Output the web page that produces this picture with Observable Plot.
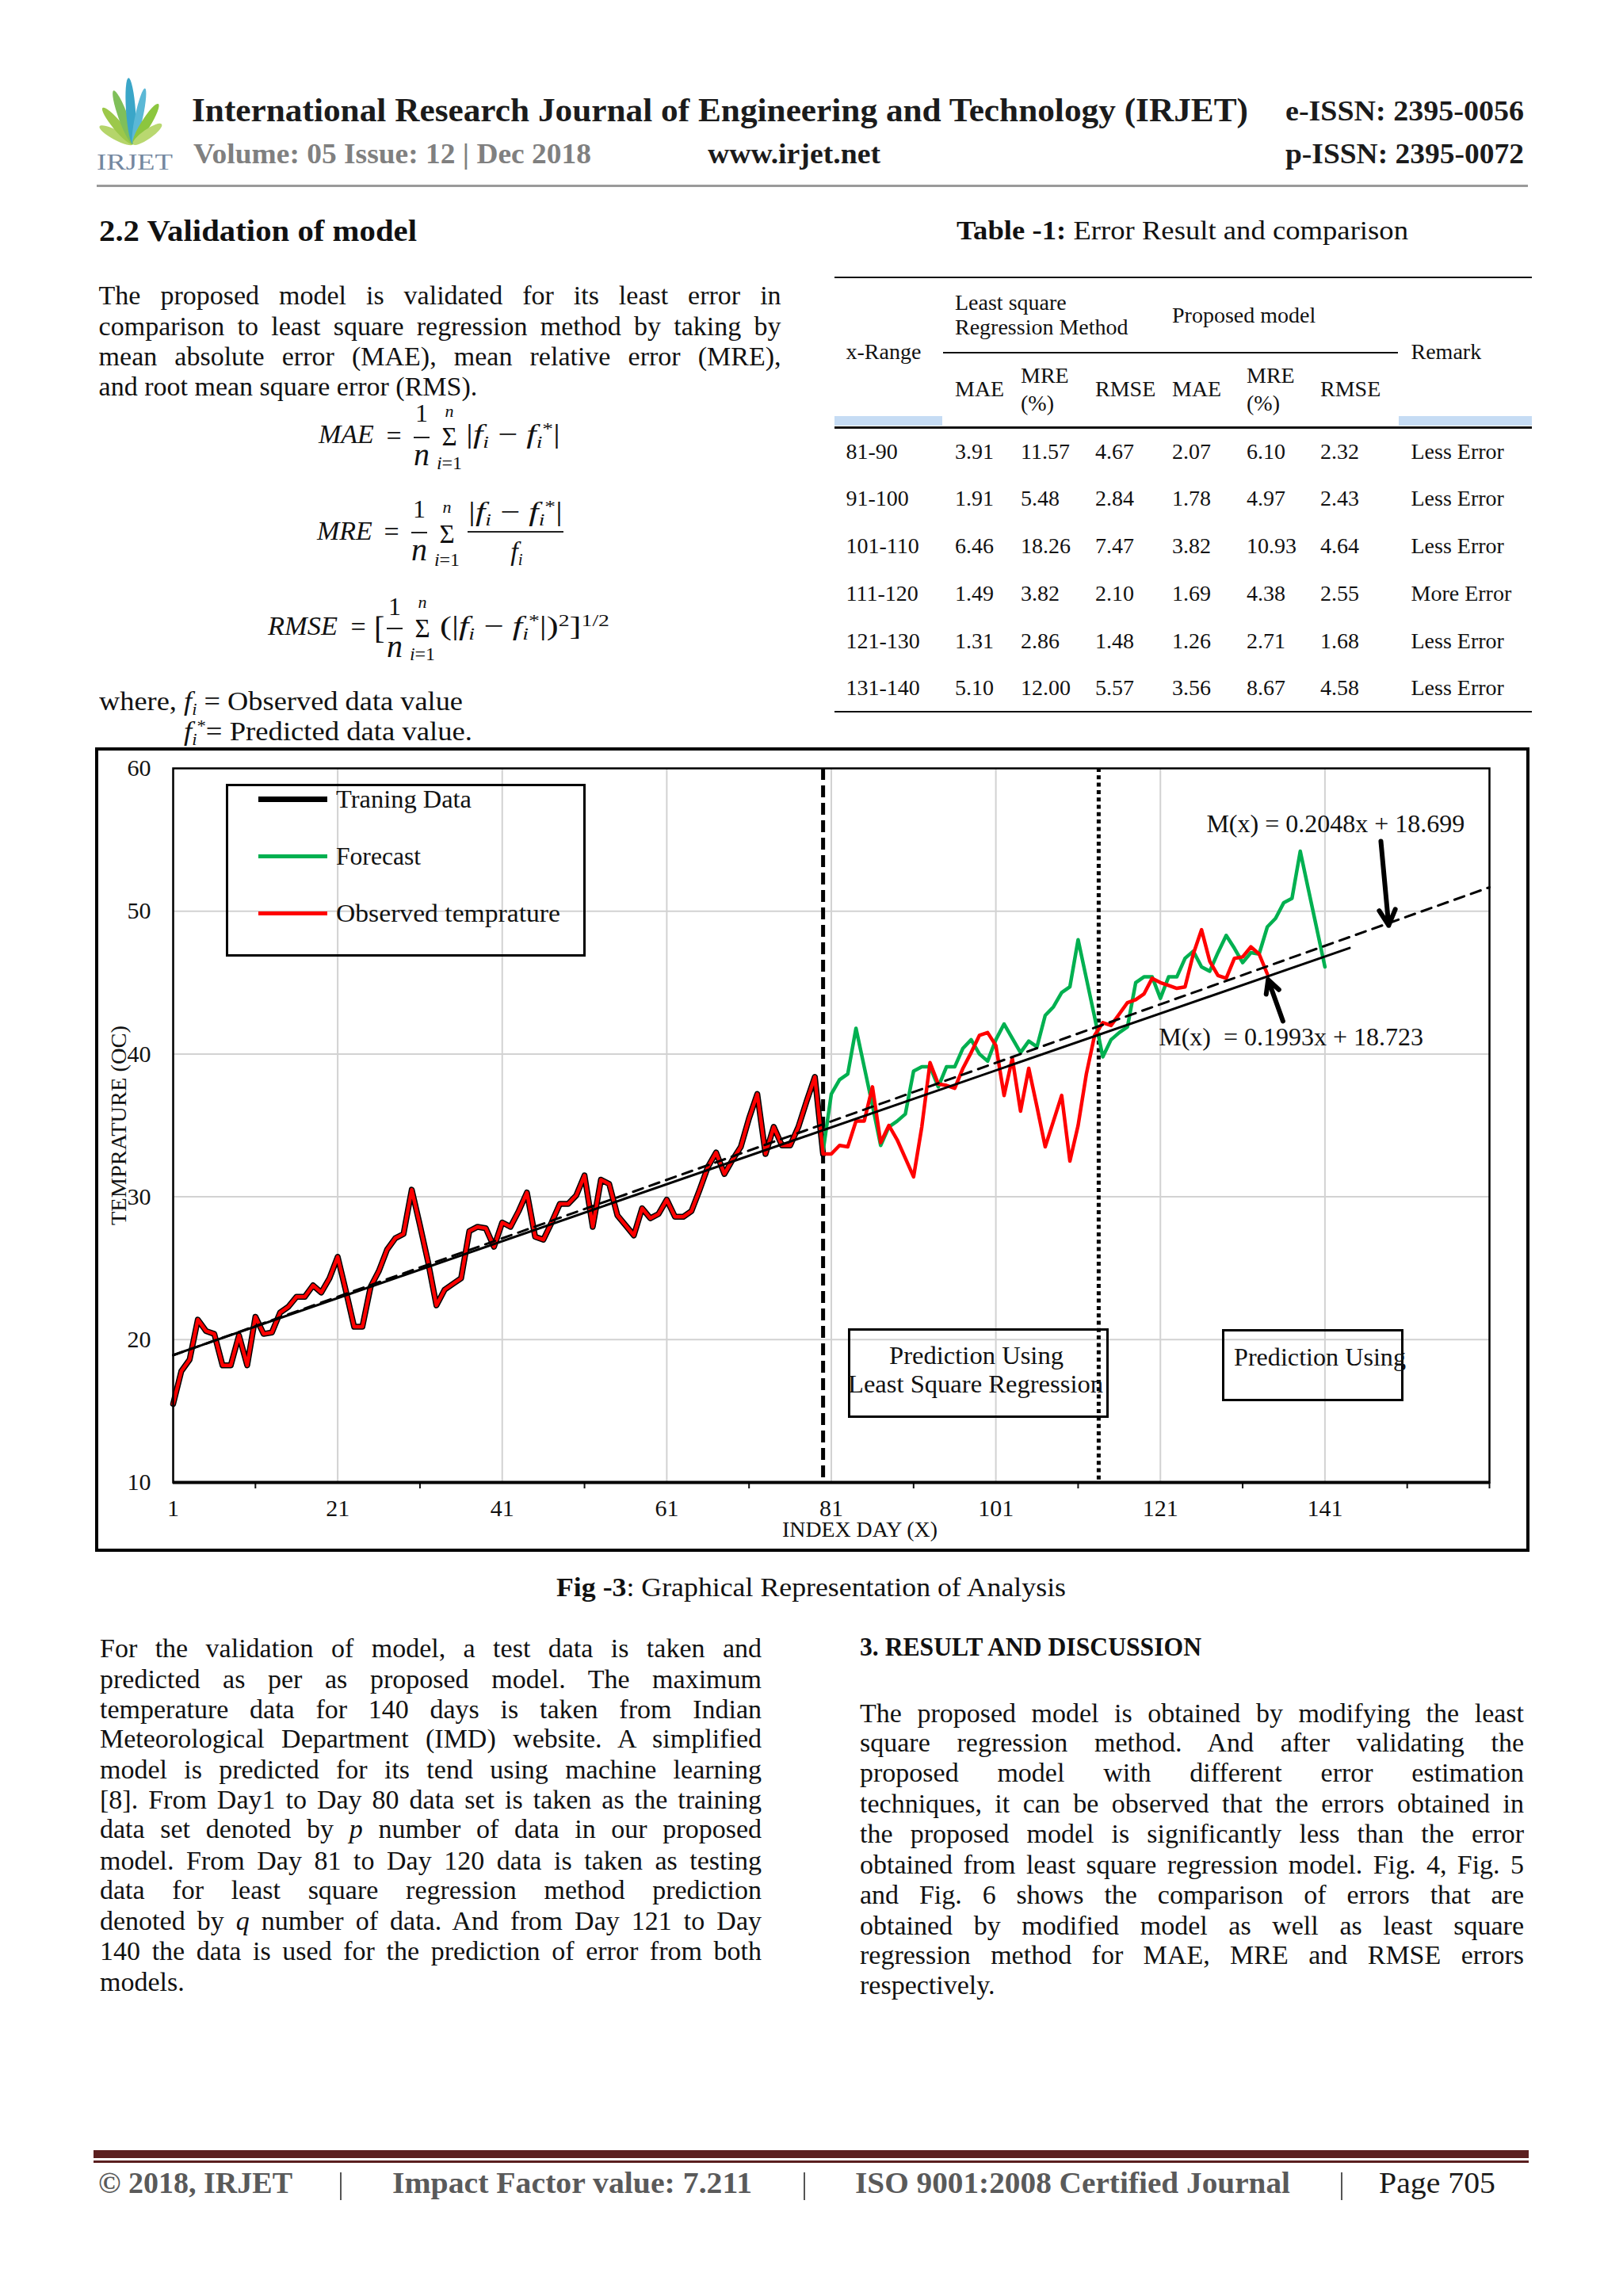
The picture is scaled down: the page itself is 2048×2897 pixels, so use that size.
<!DOCTYPE html>
<html><head><meta charset="utf-8">
<script src="https://cdn.jsdelivr.net/npm/d3@7"></script>
<script src="https://cdn.jsdelivr.net/npm/@observablehq/plot@0.6"></script>
<style>
html,body{margin:0;padding:0;background:#fff;}
#page{position:relative;width:2048px;height:2897px;overflow:hidden;background:#fff;font-family:"Liberation Serif",serif;color:#111;}
.t{position:absolute;white-space:nowrap;line-height:1;}
.r{position:absolute;box-sizing:border-box;}
sub{font-size:0.62em;vertical-align:-0.28em;line-height:0;}
sup{font-size:0.62em;vertical-align:0.5em;line-height:0;}
#chart{position:absolute;left:122px;top:945px;width:1806px;height:1011px;}
#chart svg{overflow:visible;}
</style></head><body><div id="page"></div>
<script>
// ---------------- DATA ----------------
// Observed temperature, index day 1..134
const observedTemp = [
  15.5, 17.8, 18.6, 21.4, 20.6, 20.4, 18.2, 18.2, 20.3, 18.2,
  21.6, 20.4, 20.5, 21.9, 22.3, 23.0, 23.0, 23.8, 23.3, 24.3,
  25.8, 23.4, 20.9, 20.9, 23.7, 24.8, 26.3, 27.1, 27.4, 30.5,
  28.0, 25.4, 22.4, 23.5, 23.9, 24.3, 27.6, 27.9, 27.8, 26.5,
  28.2, 27.9, 29.0, 30.3, 27.2, 27.0, 28.2, 29.5, 29.5, 30.1,
  31.5, 27.9, 31.2, 30.9, 28.7, 28.0, 27.3, 29.2, 28.5, 28.8,
  29.8, 28.6, 28.6, 29.0, 30.5, 32.1, 33.1, 31.6, 32.6, 33.5,
  35.5, 37.2, 33.0, 34.9, 33.6, 33.6, 34.9, 36.7, 38.4, 33.0,
  33.0, 33.6, 33.5, 35.3, 35.3, 37.7, 33.8, 35.0, 34.0, 32.7,
  31.4, 34.9, 39.4, 37.9, 37.8, 37.6, 39.0, 40.1, 41.3, 41.5,
  40.6, 37.1, 39.7, 36.0, 39.0, 36.3, 33.5, 35.3, 37.1, 32.5,
  35.0, 38.6, 41.3, 42.2, 42.0, 42.8, 43.6, 43.8, 44.2, 45.3,
  45.0, 44.8, 44.6, 44.7, 47.0, 48.7, 46.5, 45.5, 45.3, 46.7,
  46.8, 47.5, 47.0, 45.6
];
// Forecast, index day 80..141
const forecastStartDay = 80;
const forecastTemp = [
  33.2, 37.2, 38.2, 38.6, 41.8, 39.1, 36.4, 33.6, 34.9, 35.3,
  35.8, 38.8, 39.1, 39.1, 37.7, 39.1, 39.1, 40.4, 41.0, 40.0,
  39.5, 41.0, 42.1, 41.1, 40.1, 40.9, 40.5, 42.7, 43.3, 44.3,
  44.7, 48.0, 45.3, 42.6, 39.8, 41.0, 41.5, 41.9, 45.0, 45.4,
  45.4, 43.9, 45.4, 45.4, 46.7, 47.2, 46.1, 45.8, 47.1, 48.3,
  47.4, 46.4, 47.1, 47.0, 48.9, 49.5, 50.6, 50.9, 54.2, 51.5,
  48.8, 46.1
];
const trainingEndDay = 80;     // dashed divider
const testingEndDay = 113.5;   // dotted divider
// Trend lines shown in the chart
const lsqSlope = 0.2048, lsqIntercept = 18.699, lsqDays = [1, 161];
const pmSlope = 0.1993, pmIntercept = 18.723, pmDays = [1, 144];
// Axis ticks
const xLabelTicks = [1, 21, 41, 61, 81, 101, 121, 141];
const xMinorTicks = [11, 31, 51, 71, 91, 111, 131, 151, 161];
const yTicks = [10, 20, 30, 40, 50, 60];
const yGridTicks = [20, 30, 40, 50];
const seriesNames = ["Traning Data", "Forecast", "Observed temprature"];

// Table
const tblRanges = ["81-90","91-100","101-110","111-120","121-130","131-140"];
const lsqMAE = ["3.91","1.91","6.46","1.49","1.31","5.10"];
const lsqMRE = ["11.57","5.48","18.26","3.82","2.86","12.00"];
const lsqRMSE = ["4.67","2.84","7.47","2.10","1.48","5.57"];
const pmMAE = ["2.07","1.78","3.82","1.69","1.26","3.56"];
const pmMRE = ["6.10","4.97","10.93","4.38","2.71","8.67"];
const pmRMSE = ["2.32","2.43","4.64","2.55","1.68","4.58"];
const remarks = ["Less Error","Less Error","Less Error","More Error","Less Error","Less Error"];

const para1 = [
  "The proposed model is validated for its least error in",
  "comparison to least square regression method by taking by",
  "mean absolute error (MAE), mean relative error (MRE),",
  "and root mean square error (RMS)."
];
const paraLeft = [
  "For the validation of model, a test data is taken and",
  "predicted as per as proposed model. The maximum",
  "temperature data for 140 days is taken from Indian",
  "Meteorological Department (IMD) website. A simplified",
  "model is predicted for its tend using machine learning",
  "[8]. From Day1 to Day 80 data set is taken as the training",
  "data set denoted by <i>p</i> number of data in our proposed",
  "model. From Day 81 to Day 120 data is taken as testing",
  "data for least square regression method prediction",
  "denoted by <i>q</i> number of data. And from Day 121 to Day",
  "140 the data is used for the prediction of error from both",
  "models."
];
const paraRight = [
  "The proposed model is obtained by modifying the least",
  "square regression method. And after validating the",
  "proposed model with different error estimation",
  "techniques, it can be observed that the errors obtained in",
  "the proposed model is significantly less than the error",
  "obtained from least square regression model. Fig. 4, Fig. 5",
  "and Fig. 6 shows the comparison of errors that are",
  "obtained by modified model as well as least square",
  "regression method for MAE, MRE and RMSE errors",
  "respectively."
];

// ---------------- HELPERS ----------------
const page = document.getElementById('page');
function T(html, x, cy, o = {}) {
  const d = document.createElement('div');
  d.className = 't';
  d.innerHTML = html;
  const fs = o.s || 33;
  d.style.fontSize = fs + 'px';
  d.style.fontFamily = o.f || '"Liberation Serif", serif';
  if (o.b) d.style.fontWeight = 'bold';
  if (o.i) d.style.fontStyle = 'italic';
  d.style.color = o.c || '#111';
  d.style.left = '0px';
  d.style.top = (cy - fs * 0.56) + 'px';
  page.appendChild(d);
  const nat = d.getBoundingClientRect().width;
  let w = nat;
  if (o.w && o.j) {
    const n = (d.textContent.match(/ /g) || []).length;
    if (n) d.style.wordSpacing = ((o.w - nat) / n) + 'px';
    w = o.w;
  } else if (o.w) {
    d.style.transformOrigin = '0 50%';
    d.style.transform = 'scaleX(' + (o.w / nat) + ')';
    w = o.w;
  }
  let left = x;
  if (o.a === 'c') left = x - w / 2;
  else if (o.a === 'r') left = x - w;
  d.style.left = left + 'px';
  return d;
}
function R(x, y, w, h, st) {
  const d = document.createElement('div');
  d.className = 'r';
  Object.assign(d.style, {left: x + 'px', top: y + 'px', width: w + 'px', height: h + 'px'}, st || {});
  page.appendChild(d);
  return d;
}
const BODY = 34;

// ---------------- HEADER ----------------
const logo = document.createElement('div');
logo.style.cssText = 'position:absolute;left:118px;top:98px;width:106px;height:122px;';
logo.innerHTML = `<svg width="106" height="122">
 <g transform="translate(50,84)">
  <ellipse rx="6" ry="24" transform="rotate(-62) translate(0,-24)" fill="#b5d56a"/>
  <ellipse rx="6" ry="30" transform="rotate(-40) translate(0,-30)" fill="#9cc84a"/>
  <ellipse rx="6" ry="36" transform="rotate(-20) translate(0,-36)" fill="#7fbf5a"/>
  <ellipse rx="6" ry="42" transform="rotate(-4) translate(0,-42)" fill="#3aa6c8"/>
  <ellipse rx="5" ry="36" transform="rotate(12) translate(0,-36)" fill="#5bb8d6"/>
  <ellipse rx="6" ry="30" transform="rotate(32) translate(0,-30)" fill="#8cc63f"/>
  <ellipse rx="6" ry="22" transform="rotate(55) translate(0,-22)" fill="#b9d870"/>
 </g>
 <text x="52" y="116" text-anchor="middle" font-family="Liberation Serif" font-size="30" fill="#7488a0" textLength="96" lengthAdjust="spacingAndGlyphs">IRJET</text>
</svg>`;
page.appendChild(logo);
T('International Research Journal of Engineering and Technology (IRJET)', 242, 142, {s:42, b:1, w:1333, c:'#1b1b1b'});
T('e-ISSN: 2395-0056', 1622, 142, {s:36, b:1, w:301, c:'#1b1b1b'});
T('Volume: 05 Issue: 12 | Dec 2018', 244, 196, {s:36, b:1, w:502, c:'#808080'});
T('www.irjet.net', 893, 196, {s:36, b:1, w:218, c:'#1b1b1b'});
T('p-ISSN: 2395-0072', 1622, 196, {s:36, b:1, w:301, c:'#1b1b1b'});
R(122, 233, 1806, 3, {background:'#9a9a9a'});

// ---------------- LEFT TOP COLUMN ----------------
T('2.2 Validation of model', 124.6, 293.5, {s:37, b:1, w:401});
const p1y = [375, 414, 452, 490];
para1.forEach((l, i) => T(l, 124.6, p1y[i], {s:BODY, w: i < para1.length - 1 ? 861 : null, j:1}));

// Formulas
const fi = '<i>f</i><sub><i>i</i></sub>';
const fis = '<i>f</i><sub><i>i</i></sub><sup>*</sup>';
// MAE
T('<i>MAE</i>', 402, 550, {s:34});
T('=', 497, 552, {s:34, a:'c'});
T('1', 532, 523, {s:32, a:'c'});
R(522, 551, 20, 2, {background:'#222'});
T('<i>n</i>', 532, 576, {s:40, a:'c'});
T('<i>n</i>', 567, 520, {s:22, a:'c'});
T('Σ', 567, 553, {s:33, a:'c'});
T('<i>i</i>=1', 567, 585, {s:24, a:'c'});
T('|' + fi + ' − ' + fis + '|', 588, 550, {s:34, w:119});
// MRE
T('<i>MRE</i>', 400, 672, {s:34});
T('=', 494, 673, {s:34, a:'c'});
T('1', 529, 644, {s:32, a:'c'});
R(519, 671, 20, 2, {background:'#222'});
T('<i>n</i>', 529, 696, {s:40, a:'c'});
T('<i>n</i>', 564, 641, {s:22, a:'c'});
T('Σ', 564, 676, {s:33, a:'c'});
T('<i>i</i>=1', 564, 707, {s:24, a:'c'});
T('|' + fi + ' − ' + fis + '|', 650, 648, {s:34, w:119, a:'c'});
R(590, 670, 121, 2, {background:'#222'});
T(fi, 652, 698, {s:34, a:'c'});
// RMSE
T('<i>RMSE</i>', 338, 792, {s:34, w:88});
T('=', 452, 793, {s:34, a:'c'});
T('[', 472, 795, {s:40});
T('1', 498, 767, {s:32, a:'c'});
R(488, 792, 20, 2, {background:'#222'});
T('<i>n</i>', 498, 818, {s:40, a:'c'});
T('<i>n</i>', 533, 761, {s:22, a:'c'});
T('Σ', 533, 795, {s:33, a:'c'});
T('<i>i</i>=1', 533, 826, {s:24, a:'c'});
T('(|' + fi + ' − ' + fis + '|)<sup>2</sup>]<sup>1/2</sup>', 555, 792, {s:34, w:214});
T('where, ' + fi + ' = Observed data value', 125, 887, {s:BODY, w:459});
T(fis + '= Predicted data value.', 232, 925, {s:BODY, w:364});

// ---------------- TABLE ----------------
T('<b>Table -1:</b> Error Result and comparison', 1206.5, 293, {s:34, w:570});
R(1053, 349, 880, 2, {background:'#111'});
T('Least square', 1205, 384, {s:28});
T('Regression Method', 1205, 415, {s:28});
T('Proposed model', 1479, 400, {s:28});
R(1190, 444, 574, 2, {background:'#111'});
T('x-Range', 1067.5, 446, {s:28});
T('Remark', 1780.5, 446, {s:28});
[[1205,'MAE'],[1382,'RMSE'],[1479,'MAE'],[1666,'RMSE']].forEach(([x,t]) => T(t, x, 493, {s:28}));
[1288, 1573].forEach(x => { T('MRE', x, 476, {s:28}); T('(%)', x, 511, {s:28}); });
R(1053, 525, 136, 12, {background:'#c6dcf4'});
R(1765, 525, 168, 12, {background:'#c6dcf4'});
R(1053, 538, 880, 3, {background:'#111'});
const colX = [1067.5, 1205, 1288, 1382, 1479, 1573, 1666, 1780.5];
const rowY = [572, 631, 691, 751, 811, 870];
const cols = [tblRanges, lsqMAE, lsqMRE, lsqRMSE, pmMAE, pmMRE, pmRMSE, remarks];
cols.forEach((col, c) => col.forEach((v, r) => T(v, colX[c], rowY[r], {s:28})));
R(1053, 897, 880, 2, {background:'#111'});

// ---------------- CHART ----------------
const observed = observedTemp.map((t, i) => ({day: i + 1, temp: t}));
const training = observed.filter(d => d.day <= trainingEndDay);
const forecast = forecastTemp.map((t, i) => ({day: forecastStartDay + i, temp: t}));
const lsqTrend = lsqDays.map(x => ({day: x, temp: lsqSlope * x + lsqIntercept}));
const pmTrend = pmDays.map(x => ({day: x, temp: pmSlope * x + pmIntercept}));
const lsqLabel = `M(x) = ${lsqSlope}x + ${lsqIntercept}`;
const pmLabel = `M(x)\u00a0 = ${pmSlope}x + ${pmIntercept}`;

const chart = Plot.plot({
  width: 1806, height: 1011,
  marginLeft: 96, marginRight: 49, marginTop: 24, marginBottom: 86,
  x: {domain: [1, 161]},
  y: {domain: [10, 60]},
  style: {fontFamily: '"Liberation Serif", serif', fontSize: "30px", color: "#111", background: "transparent"},
  marks: [
    Plot.gridY(yGridTicks, {stroke: "#d2d2d2", strokeOpacity: 1, strokeWidth: 2}),
    Plot.gridX(xLabelTicks, {stroke: "#d2d2d2", strokeOpacity: 1, strokeWidth: 2}),
    Plot.axisY(yTicks, {tickSize: 0, tickPadding: 28, label: null, fontSize: 30}),
    Plot.axisX(xLabelTicks, {tickSize: 0, tickPadding: 21, label: null, fontSize: 30}),
    Plot.axisX(xMinorTicks, {tickSize: 8, tickFormat: () => "", label: null, strokeWidth: 2}),
    Plot.ruleX([trainingEndDay], {stroke: "#000", strokeWidth: 5, strokeDasharray: "15,7"}),
    Plot.ruleX([testingEndDay], {stroke: "#000", strokeWidth: 5, strokeDasharray: "5,4.3"}),
    Plot.line(training, {x: "day", y: "temp", stroke: "#000", strokeWidth: 7.5}),
    Plot.line(forecast, {x: "day", y: "temp", stroke: "#00b050", strokeWidth: 4.5}),
    Plot.line(observed, {x: "day", y: "temp", stroke: "#ff0000", strokeWidth: 4.5}),
    Plot.line(lsqTrend, {x: "day", y: "temp", stroke: "#000", strokeWidth: 3, strokeDasharray: "13,9"}),
    Plot.line(pmTrend, {x: "day", y: "temp", stroke: "#000", strokeWidth: 3}),
    Plot.ruleY([10], {stroke: "#000", strokeWidth: 4}),
    Plot.frame({stroke: "#000", strokeWidth: 2.5}),
    Plot.text([lsqLabel], {x: 126.6, y: 56.1, text: d => d, textAnchor: "start", fontSize: 32, fill: "#111"}),
    Plot.text([pmLabel], {x: 120.8, y: 41.2, text: d => d, textAnchor: "start", fontSize: 32, fill: "#111"}),
    Plot.arrow([{x1: 147.8, y1: 54.9, x2: 148.75, y2: 49.0}, {x1: 135.9, y1: 42.3, x2: 134.1, y2: 45.2}],
      {x1: "x1", y1: "y1", x2: "x2", y2: "y2", stroke: "#000", strokeWidth: 6, headLength: 5.5, headAngle: 55})
  ]
});
const chartDiv = document.createElement('div');
chartDiv.id = 'chart';
chartDiv.appendChild(chart);
page.appendChild(chartDiv);
// outer figure frame
R(120, 943, 1810, 1015, {border: '4.5px solid #000'});

// legend (inside chart)
R(285, 989, 454, 218, {border: '3px solid #000'});
const legendColors = ["#000", "#00b050", "#ff0000"];
const legendW = [7, 5, 5];
const legendY = [1008, 1080, 1152];
const legendTextW = [171, 107, 283];
seriesNames.forEach((n, i) => {
  R(326, legendY[i] - legendW[i] / 2, 87, legendW[i], {background: legendColors[i]});
  T(n, 424, legendY[i] + 2, {s: 32, w: legendTextW[i]});
});
// annotation boxes
R(1070, 1676, 329, 113, {border: '3px solid #000'});
T('Prediction Using', 1232, 1712, {s: 32, w: 220, a: 'c'});
T('Least Square Regression', 1231, 1748, {s: 32, w: 322, a: 'c'});
R(1542, 1677, 229, 91, {border: '3px solid #000'});
T('Prediction Using', 1665, 1714, {s: 32, w: 217, a: 'c'});
// axis titles
T('INDEX DAY (X)', 1085, 1932, {s: 28, w: 196, a: 'c'});
const yl = T('TEMPRATURE (OC)', 0, 0, {s: 28});
const ylw = yl.getBoundingClientRect().width;
yl.style.left = (150 - ylw / 2) + 'px';
yl.style.top = (1420 - 14) + 'px';
yl.style.transformOrigin = '50% 50%';
yl.style.transform = 'rotate(-90deg) scaleX(' + (252 / ylw) + ')';

// caption
T('<b>Fig -3</b>: Graphical Representation of Analysis', 1023, 2005, {s: 33, w: 643, a: 'c'});

// ---------------- BOTTOM COLUMNS ----------------
const pLy = [2082, 2121, 2159, 2196, 2235, 2273, 2310, 2350, 2387, 2426, 2464, 2503];
paraLeft.forEach((l, i) => T(l, 126, pLy[i], {s: BODY, w: i < paraLeft.length - 1 ? 835 : null, j: 1}));
T('3. RESULT AND DISCUSSION', 1085, 2080, {s: 33, b: 1, w: 431});
const pRy = [2164, 2201, 2239, 2278, 2316, 2355, 2393, 2432, 2469, 2507];
paraRight.forEach((l, i) => T(l, 1085, pRy[i], {s: BODY, w: i < paraRight.length - 1 ? 838 : null, j: 1}));

// ---------------- FOOTER ----------------
R(118, 2713, 1811, 10, {background: '#5b1f1f'});
R(118, 2726, 1811, 3, {background: '#5b1f1f'});
T('© 2018, IRJET', 124, 2757, {s: 37, b: 1, w: 245, c: '#5a5a5a'});
T('Impact Factor value: 7.211', 495, 2757, {s: 37, b: 1, w: 454, c: '#5a5a5a'});
T('ISO 9001:2008 Certified Journal', 1079, 2757, {s: 37, b: 1, w: 549, c: '#5a5a5a'});
T('Page 705', 1740, 2757, {s: 37, w: 147, c: '#1a1a1a'});
[430, 1015, 1693].forEach(x => R(x - 1, 2741, 2, 35, {background: '#555'}));
</script></body></html>
